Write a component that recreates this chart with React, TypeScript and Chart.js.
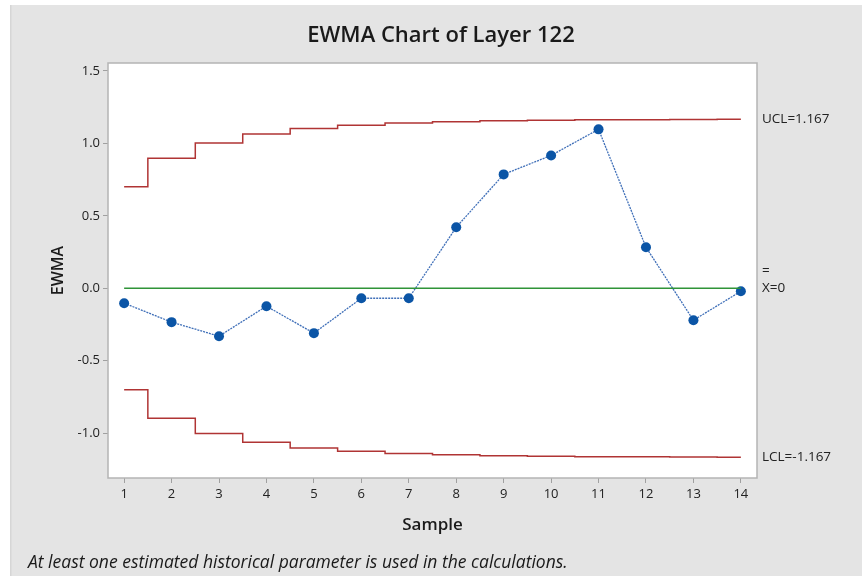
import React, { useEffect, useRef } from "react";
import { Chart, registerables } from "chart.js";

Chart.register(...registerables);

// Sample numbers on the horizontal axis
const samples = [1, 2, 3, 4, 5, 6, 7, 8, 9, 10, 11, 12, 13, 14];

// EWMA statistic per sample
const ewma = [-0.103, -0.234, -0.331, -0.124, -0.31, -0.069, -0.069, 0.421, 0.786, 0.917, 1.097, 0.283, -0.221, -0.021];

// Control limits per sample (they widen toward the asymptotic limits)
const ucl = [0.7, 0.897, 1.003, 1.064, 1.103, 1.126, 1.141, 1.15, 1.156, 1.16, 1.163, 1.164, 1.165, 1.166];
const lcl = [-0.7, -0.897, -1.003, -1.064, -1.103, -1.126, -1.141, -1.15, -1.156, -1.16, -1.163, -1.164, -1.165, -1.166];

// Center line
const centerValue = 0;

// Tick values
const yTicks = [-1.0, -0.5, 0.0, 0.5, 1.0, 1.5];

const uclLabel = "UCL=1.167";
const lclLabel = "LCL=-1.167";
const centerLabel = "X=0";

const FONT = "'Open Sans', 'Noto Sans', sans-serif";

const decorPlugin = {
  id: "decor",
  beforeDraw(chart: any) {
    const { ctx, width, height, chartArea } = chart;
    ctx.save();
    ctx.fillStyle = "#ffffff";
    ctx.fillRect(0, 0, width, height);
    ctx.fillStyle = "#e4e4e4";
    ctx.fillRect(10, 5, width - 10, height - 5);
    ctx.fillStyle = "#d6d6d6";
    ctx.fillRect(10, 5, 1.5, height - 5);
    ctx.fillStyle = "#ffffff";
    ctx.fillRect(chartArea.left, chartArea.top, chartArea.right - chartArea.left, chartArea.bottom - chartArea.top);
    ctx.restore();
  },
  afterDraw(chart: any) {
    const { ctx, chartArea, scales } = chart;
    const yS = scales.y;
    ctx.save();
    // frame around plot area
    ctx.strokeStyle = "#b4b4b4";
    ctx.lineWidth = 1.5;
    ctx.strokeRect(chartArea.left, chartArea.top, chartArea.right - chartArea.left, chartArea.bottom - chartArea.top);

    // title
    ctx.fillStyle = "#1a1a1a";
    ctx.textAlign = "center";
    ctx.textBaseline = "middle";
    ctx.font = `600 22px ${FONT}`;
    ctx.fillText("EWMA Chart of Layer 122", 441, 36);

    // axis titles
    ctx.font = `600 17px ${FONT}`;
    ctx.fillText("Sample", (chartArea.left + chartArea.right) / 2, 525);
    ctx.save();
    ctx.translate(58, (chartArea.top + chartArea.bottom) / 2);
    ctx.rotate(-Math.PI / 2);
    ctx.font = `600 16px ${FONT}`;
    ctx.fillText("EWMA", 0, 0);
    ctx.restore();

    // footnote
    ctx.textAlign = "left";
    ctx.font = `italic 17.5px ${FONT}`;
    ctx.fillText("At least one estimated historical parameter is used in the calculations.", 28, 563);

    // limit labels
    ctx.font = `13.5px ${FONT}`;
    ctx.fillStyle = "#222222";
    const lx = chartArea.right + 5;
    ctx.fillText(uclLabel, lx, yS.getPixelForValue(ucl[ucl.length - 1]));
    ctx.fillText(lclLabel, lx, yS.getPixelForValue(lcl[lcl.length - 1]));
    const cy = yS.getPixelForValue(centerValue);
    ctx.fillText(centerLabel, lx, cy);
    ctx.fillText("=", lx, cy - 17);
    ctx.restore();
  },
};

export default function App() {
  const canvasRef = useRef<HTMLCanvasElement | null>(null);

  useEffect(() => {
    const canvas = canvasRef.current;
    if (!canvas) return;
    const pts = (vals: number[]) => samples.map((s, i) => ({ x: s, y: vals[i] }));
    const limitStyle = {
      borderColor: "#b03434",
      borderWidth: 1.5,
      pointRadius: 0,
      stepped: "middle" as const,
      fill: false,
    };
    const chart = new Chart(canvas, {
      type: "line",
      data: {
        datasets: [
          { label: "UCL", data: pts(ucl), ...limitStyle },
          { label: "LCL", data: pts(lcl), ...limitStyle },
          {
            label: "Center",
            data: [
              { x: samples[0], y: centerValue },
              { x: samples[samples.length - 1], y: centerValue },
            ],
            borderColor: "#2f9438",
            borderWidth: 1.5,
            pointRadius: 0,
          },
          {
            label: "EWMA",
            data: pts(ewma),
            borderColor: "#3f6fb8",
            borderWidth: 1.3,
            borderDash: [2, 1],
            pointRadius: 5,
            pointBackgroundColor: "#0b55a6",
            pointBorderColor: "#0b55a6",
            pointBorderWidth: 0,
          },
        ],
      },
      options: {
        animation: false,
        responsive: false,
        devicePixelRatio: 1,
        layout: { padding: { left: 0, top: 63, right: 105, bottom: 0 } },
        plugins: { legend: { display: false }, tooltip: { enabled: false } },
        scales: {
          x: {
            type: "linear",
            min: 0.66,
            max: 14.34,
            afterBuildTicks: (s: any) => {
              s.ticks = samples.map((v) => ({ value: v }));
            },
            afterFit: (s: any) => {
              s.height = 98;
            },
            grid: { drawOnChartArea: false, drawTicks: true, tickLength: 5, color: "#a0a0a0" },
            border: { display: false },
            ticks: {
              padding: 3,
              color: "#222222",
              font: { family: FONT, size: 13 },
              callback: (v: any) => String(v),
            },
          },
          y: {
            type: "linear",
            min: -1.31,
            max: 1.555,
            afterBuildTicks: (s: any) => {
              s.ticks = yTicks.map((v) => ({ value: v }));
            },
            afterFit: (s: any) => {
              s.width = 108;
            },
            grid: { drawOnChartArea: false, drawTicks: true, tickLength: 5, color: "#a0a0a0" },
            border: { display: false },
            ticks: {
              padding: 3,
              color: "#222222",
              font: { family: FONT, size: 13 },
              callback: (v: any) => Number(v).toFixed(1),
            },
          },
        },
      },
      plugins: [decorPlugin],
    });
    return () => chart.destroy();
  }, []);

  return (
    <div style={{ position: "fixed", left: 0, top: 0, width: 862, height: 576 }}>
      <canvas ref={canvasRef} width={862} height={576} style={{ width: 862, height: 576, display: "block" }} />
    </div>
  );
}
